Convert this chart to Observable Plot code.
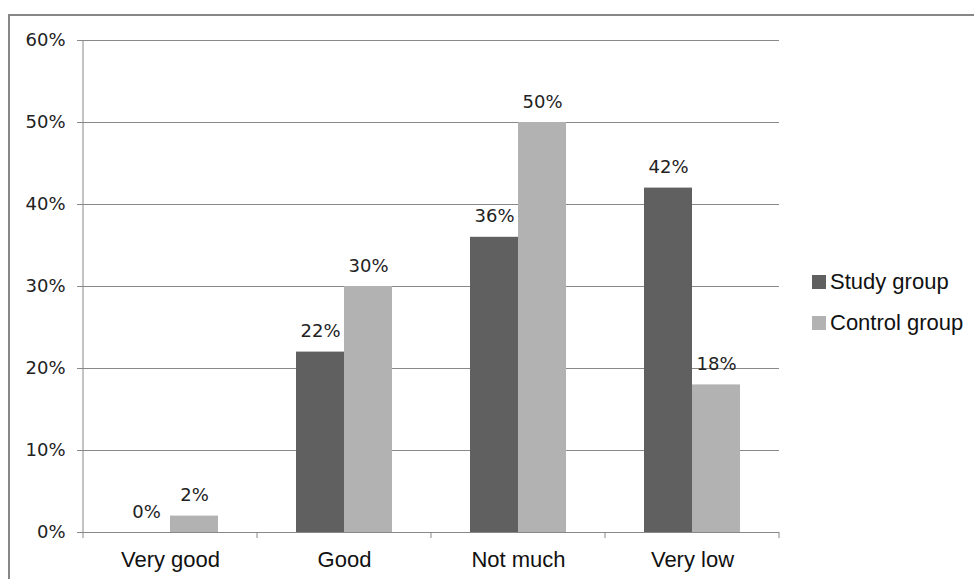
<!DOCTYPE html>
<html><head><meta charset="utf-8">
<script src="https://cdn.jsdelivr.net/npm/d3@7"></script>
<script src="https://cdn.jsdelivr.net/npm/@observablehq/plot@0.6"></script>
<style>
body{margin:0;background:#fff}
#wrap{position:relative;width:974px;height:579px;overflow:hidden;background:#fff}
#border{position:absolute;left:8px;top:14px;width:2000px;height:2000px;border-left:2px solid #878787;border-top:2px solid #878787}
#chart{position:absolute;left:0;top:0}
#legend{position:absolute;left:812px;top:261px;font-family:"Liberation Sans",Arial,sans-serif;font-size:22px;color:#111}
.item{display:flex;align-items:center;height:41px}
.sw{width:14px;height:14px;margin-right:4px}
</style></head>
<body><div id="wrap"><div id="border"></div><div id="chart"></div><div id="legend"></div></div>
<script>
const categories = ["Very good", "Good", "Not much", "Very low"];
const groups = ["Study group", "Control group"];
const study = [0, 22, 36, 42];
const control = [2, 30, 50, 18];
const yTicks = [0, 10, 20, 30, 40, 50, 60];
const colors = ["#606060", "#b2b2b2"];

const data = categories.flatMap((c, i) => [
  {category: c, group: groups[0], value: study[i]},
  {category: c, group: groups[1], value: control[i]}
]);

const W = 974, H = 579;
const plot = Plot.plot({
  width: W, height: H,
  marginLeft: 82, marginRight: 194, marginTop: 40, marginBottom: 47,
  style: {fontFamily: "DejaVu Sans", fontSize: "18px", color: "#222", background: "transparent", overflow: "visible"},
  fx: {domain: categories, padding: 0, label: null, axis: null},
  x: {domain: groups, paddingInner: 0, paddingOuter: 0.78, axis: null},
  y: {domain: [0, 60], axis: null},
  color: {domain: groups, range: colors},
  marks: [
    Plot.ruleY(yTicks, {stroke: "#888", strokeWidth: 1}),
    Plot.axisY(yTicks, {tickFormat: d => d + "%", tickSize: 6, tickPadding: 12, stroke: "#888", fill: "#222", label: null}),
    Plot.axisFx({anchor: "bottom", tickSize: 0, tickPadding: 19, label: null, fontFamily: "Liberation Sans", fontSize: 22, fill: "#111"}),
    Plot.barY(data, {fx: "category", x: "group", y: "value", fill: "group"}),
    Plot.text(data, {fx: "category", x: "group", y: "value", text: d => d.value + "%", lineAnchor: "bottom", dy: -15, fill: "#222"})
  ]
});

// axis line and category boundary ticks from the library's scales
const fx = plot.scale("fx"), y = plot.scale("y");
const y0 = y.apply(0), y1 = y.apply(60);
const bounds = categories.map(c => fx.apply(c));
bounds.push(fx.apply(categories[categories.length - 1]) + fx.bandwidth);
const g = d3.select(plot).append("g").attr("stroke", "#888").attr("stroke-width", 1);
g.append("line").attr("x1", bounds[0]).attr("x2", bounds[0]).attr("y1", y1).attr("y2", y0);
g.selectAll(".b").data(bounds).join("line").attr("class", "b")
  .attr("x1", d => d).attr("x2", d => d).attr("y1", y0).attr("y2", y0 + 6);

document.getElementById("chart").append(plot);

const legend = d3.select("#legend");
groups.forEach((gName, i) => {
  const it = legend.append("div").attr("class", "item");
  it.append("div").attr("class", "sw").style("background", colors[i]);
  it.append("span").text(gName);
});
</script>
</body></html>
